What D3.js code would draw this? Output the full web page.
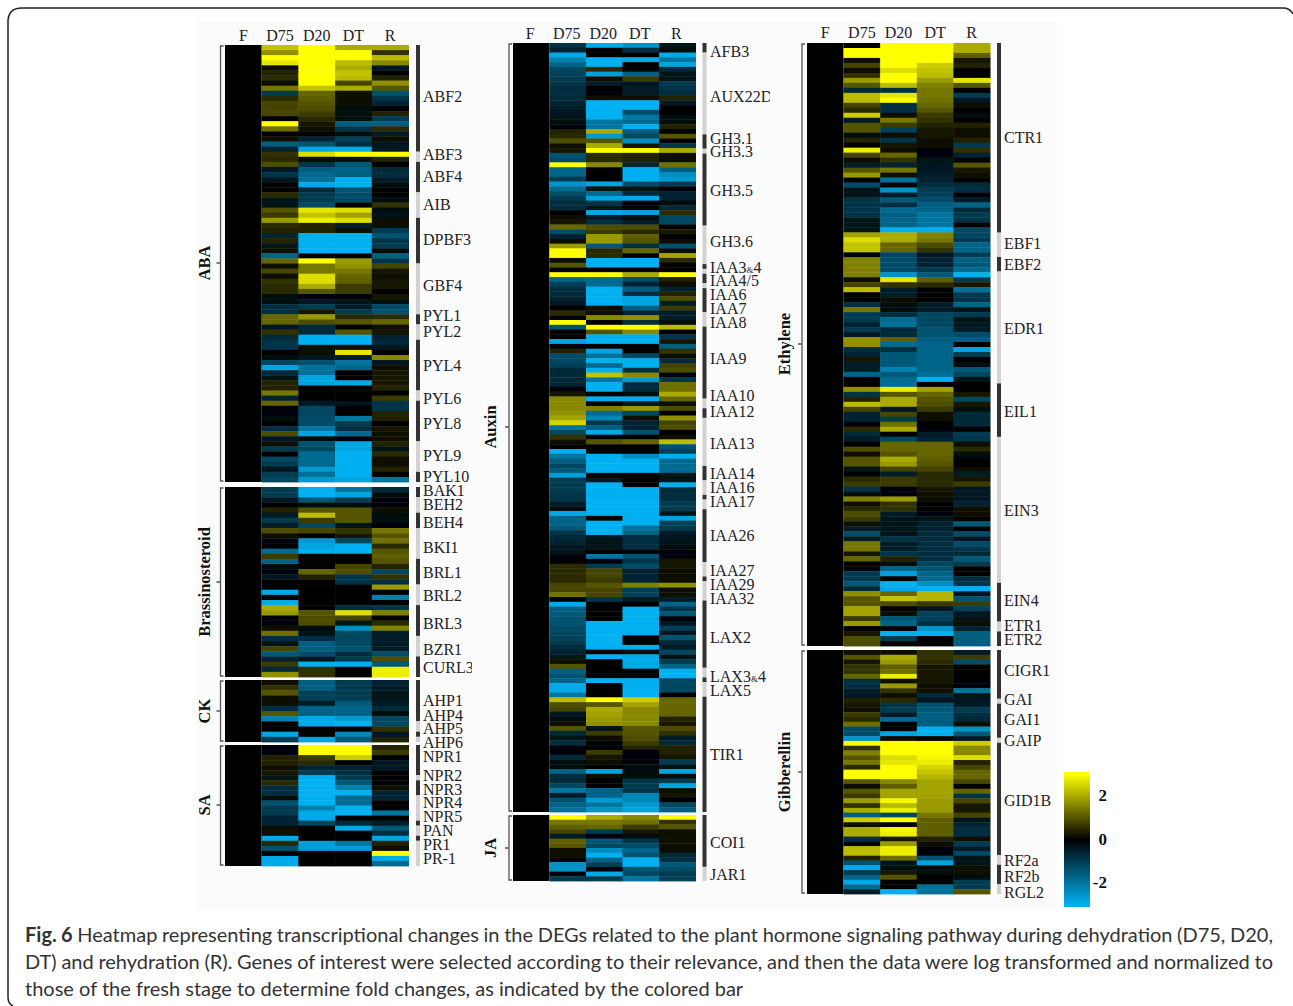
<!DOCTYPE html>
<html>
<head>
<meta charset="utf-8">
<script src="https://cdnjs.cloudflare.com/ajax/libs/d3/7.8.5/d3.min.js"></script>
<style>
  body { margin: 0; background: #fff; }
  svg { display: block; }
  .gene, .head { font-family: "Liberation Serif", serif; font-size: 16px; fill: #222; }
  .group { font-family: "Liberation Serif", serif; font-size: 16.5px; font-weight: bold; fill: #111; }
  .tick { font-family: "Liberation Serif", serif; font-size: 17px; font-weight: bold; fill: #111; }
  .caption { font-family: Lato, sans-serif; font-size: 20px; fill: #333; }
</style>
</head>
<body>
<div id="chart"></div>
<script>
var samples = ["F", "D75", "D20", "DT", "R"];
var freshValue = [0];

// ABA
var abaD75 = [2.3,1.7,3,2.7,.1,.4,.5,.1,1.4,-1,.5,.8,.8,.8,0,3,1.3,0,.2,-1.6,-.6,.6,.5,.9,-.4,-.9,-.4,0,0,.5,-.3,-.3,1,.7,1.8,.5,.4,-.6,.4,-.3,.2,-1.7,1.2,.1,.8,.2,.6,.5,.5,-.2,-.2,-.8,-.8,
  1.2,1.2,-.4,.6,-.7,-.9,-.9,0,-.2,-1.2,-2.8,-.7,-.3,.4,.4,1.4,-.6,1.2,-.1,-.1,-.2,0,-.8,.9,-.4,.1,-1,0,-1.2,-1,-.4,-1,-1.2];
var abaD20 = [3,3,3,3,3,3,3,3,2.3,1.2,1.1,1,.9,.7,.5,.3,.2,0,-.6,-1.4,-2.9,2.6,.1,-.9,-1.6,-1.8,-1.9,-2.9,-.7,-1,-1,-1.3,2.7,2.3,2.8,.4,.4,-3,-3,-3,-3,0,3,1.4,1.4,2.6,2.6,2,1,-.1,-.4,-1,.3,
  1.8,.9,-.7,-.7,-3,-3,.1,.1,-.4,-1.4,-1.9,-1.9,-2.8,-2.8,0,0,0,-.4,-1.2,-1.2,-1.3,-1.3,-2,-2.8,-.2,-1.4,-1.2,-1.8,-1.8,-1.8,-2.6,-1.9,-2.6];
var abaDT = [2,3,3,2.2,2,2.3,2.2,.8,2,.1,.1,.2,-.2,-.2,-.2,-1.6,-.9,-.2,-1.1,-.8,-2.9,3,.2,-1.5,-1.7,-1.6,-3,-3,-1.4,-1.3,-1.3,0,2.6,1.9,2.6,-.5,.1,-3,-3,-3,-3,0,1.8,1.7,1.4,1.2,1.1,.7,.7,0,-.3,-.5,-1,
  .5,1,0,1,-3,-3,.1,2.7,-.5,-2,-1.7,0,0,-2.9,0,0,0,-.3,0,0,-2,-1,-.8,-1.8,-.1,-2.8,-2.8,-3,-3,-3,-3,-3,-2.8];
var abaR = [2,.6,2.2,1.6,-.4,0,.4,1.7,1,-1.4,-.9,-.6,0,.4,-1,-1.6,.5,-.5,.2,-.4,-.4,3,.4,0,-.7,-.8,-.5,-.2,0,0,-.2,.6,-.2,-.3,.2,.1,-1,-1.4,-.9,-1,-.2,-1.6,-.9,.8,.3,.1,.3,.3,0,.3,-.2,-1.3,-1.4,
  .5,1.2,.2,.3,-.6,-.7,-.4,0,1.6,-.4,.1,.3,.3,.3,.4,0,.7,-.9,-.9,.4,.4,0,.3,.1,.1,.4,-.3,.5,.1,.2,.4,0,-2];
var abaBars = [21,2,6,5,9,10,2,3,10,2,8,6,2];
var abaGenes = ["ABF2","ABF3","ABF4","AIB","DPBF3","GBF4","PYL1","PYL2","PYL4","PYL6","PYL8","PYL9","PYL10"];
var abaGeneRows = [10.2,21.7,26,31.5,38.4,47.4,53.3,56.5,63.2,69.7,74.6,80.9,85];

// Brassinosteroid
var brD75 = [-1,-1,-.4,0,.4,-.5,-1,-.5,.9,.2,-.1,0,-1.8,.7,-1.7,-.2,-.1,-.4,0,0,-2.9,0,-2.9,2,1.8,-.1,-.1,.2,1.3,-.8,-.3,.8,-1.5,-.6,.7,-.7,1.7];
var brD20 = [-3,-3,-1.5,-.2,1,2.2,.7,-1.2,.8,0,-2.6,-2.8,-3,0,0,0,1.2,.4,0,0,0,0,0,0,1,.9,.9,-.2,-.3,-.8,-1.6,-1.6,-1.3,-.4,-3,.6,.6];
var brDT = [-2,-2.8,-1,-.2,1,1,1,-.3,.6,.3,-1.2,-3,-3,0,0,.8,.9,-.9,-.9,0,0,0,0,-.8,2.6,.8,-.3,-2.4,-1.2,-1.2,-1.2,-1.4,-.8,-1,-3,0,0];
var brR = [-.7,-.2,-.1,-.1,.2,-.2,-.2,-.1,1.4,1,1.3,.5,1,1.1,1,.4,-1.2,.6,-.8,1.8,0,-2.2,0,-.9,1.5,0,.5,1.5,-.5,-.5,-.5,-.5,-1.3,.9,-1.5,2.8,2.8];
var brBars = [2,3,3,6,5,4,6,4,4];
var brGenes = ["BAK1","BEH2","BEH4","BKI1","BRL1","BRL2","BRL3","BZR1","CURL3"];
var brGeneRows = [.8,3.5,7,11.9,16.7,21.2,26.7,31.7,35.2];

// CK
var ckD75 = [.1,.6,1,.2,.2,-.8,1,-2.2,0,0,-2.8,-1];
var ckD20 = [-1.6,-1.6,-1.1,-1.1,-.5,-1.7,-1.7,-2.9,-2.9,0,0,-2.8];
var ckDT = [-1,-1,-1,-1,-1.5,-1.7,-1.7,-2.6,-3,0,-2.3,-1.5];
var ckR = [-.6,-.5,-.3,-.3,-.5,-.7,-.2,-1.2,-1.2,.6,-.4,.4];
var ckBars = [8,2,1,1];
var ckGenes = ["AHP1","AHP4","AHP5","AHP6"];
var ckGeneRows = [4.06,7,9.5,12.2];

// SA
var saD75 = [-.1,-.1,.4,.4,.2,.3,-.3,.5,-.8,-.8,-.2,-1.4,-1,-1,-.6,-.6,.1,.1,-2.9,.5,-1.4,0,-2.9,-2.9];
var saD20 = [3,3,.7,.5,-.6,-1,-3,-3,-3,-3,-3,-3,-2.2,-2.9,-2.9,-1.2,0,0,0,-2.7,-2.7,0,0,0];
var saDT = [3,3,2.4,0,-.6,-.8,-1,-1.5,-2.2,-3,-1.8,-1.8,-3,-3,0,-.7,-2.8,0,0,-2,-2.7,0,0,0];
var saR = [.4,.7,0,-.4,-.4,0,0,0,.2,-.6,-.6,0,0,-2,0,-.5,-1.5,-.8,-2.8,.4,.1,3,-2.9,-1.8];
var saBars = [6,1,3,5,1,2,1,5];
var saGenes = ["NPR1","NPR2","NPR3","NPR4","NPR5","PAN","PR1","PR-1"];
var saGeneRows = [2.4,6.2,8.9,11.5,14.3,17,19.8,22.6];

// Auxin
var auxD75 = [-.9,-.6,-2.9,-2.2,-1.7,-1.2,-1.1,-1,-.9,-.8,-.8,-.7,-.6,-.5,-.4,-.3,-.2,-.1,.4,.5,.9,.1,.3,-1.4,-1.3,3,-1.7,-1.7,-1,-2.5,-1.8,-1.3,-1,-.8,-.7,0,.2,.3,1.2,-1.3,-.6,.1,1.8,3,3,.2,1,0,3,-1.7,-1.1,-.8,-.7,-.6,-.4,0,
  .5,0,3,-1.4,0,0,-2.8,-.1,.4,-1.3,-1.2,-1.1,-.7,-.7,-.7,-.6,-.1,.3,1.6,1.6,1.6,1.7,1.9,2.5,-2,-1.2,.6,.1,0,-3,-2,-1.6,-1.2,-1.5,-2.7,-1,-1,-1,-.9,-.9,-.5,-.2,-2.9,-1.7,-1.7,-1.5,-.9,-.7,-.6,-.4,-.3,-.1,0,.5,.5,.5,.5,.8,.8,1.3,0,
  -2.9,-1.6,-1.5,-1.4,-1.4,-1.3,-1.2,-1.1,-1,-.8,-.6,-.3,.2,1,-1.6,-1.4,-1.7,-2.9,-2.9,-2,2.2,.9,.8,-.4,-.2,.2,1,-.7,-.3,-.8,-.1,-.1,-.7,-.2,-.2,-1.7,-.8,-.7,-1.2,-2,-.5,-1.4,-1.7,-1.9];
var auxD20 = [-2.9,0,0,-3,-3,.5,-2.7,.2,-.5,0,-.1,.1,-3,-3,-3,-3,-2,-2,2,-2.6,1,2,3,.5,.5,1.6,0,0,0,-2.8,-.3,-1.8,-2.8,-.9,-.3,-2.9,-.5,-.8,.9,.7,1.8,1.8,-1.5,.5,.5,-3,-3,0,3,-1.8,-1.8,-3,-3,-3,-3,.1,.1,
  1.6,0,3,1,-3,-3,0,-2.8,-1.9,-3,-1.8,-3,2.3,-2,-3,-3,0,-3,0,1.5,-1.8,-2.3,-1,-1.6,-2.9,0,1,0,0,-3,-3,-3,-3,0,-.4,-3,-3,-3,-3,-3,-3,-3,0,-3,-3,-3,-.4,-.3,-.3,0,-2,-.1,-1,.8,.8,.7,1,.8,.8,-.9,
  0,0,0,0,-3,-3,-3,-3,-3,-3,0,-3,0,0,0,0,-3,0,0,0,3,1,2,1.9,1.8,1.7,-.3,.7,.2,0,0,.7,.3,.1,0,-2.8,.1,0,0,-1.7,-1.7,-2.6,-2,-2.5];
var auxDT = [-2.5,-.8,0,-2.9,0,0,-1.6,.7,-.4,-.5,-.5,.2,-3,-3,-1.3,-2,-1.8,-3,-1.6,-1.2,-2.4,.3,3,.4,.4,-.6,-3,-3,-3,-1.3,-.3,-.7,-2.9,-.1,0,-2.8,-.2,-.5,.9,.5,1.1,1,-.8,1.2,0,-3,-3,0,2,-1.3,-.6,-1.6,-.8,-2.8,-2.8,-1.6,-.6,
  1.7,-.8,3,1.6,-3,-3,0,0,-1.2,-3,-3,-.8,1.6,-2.6,-.8,-.8,-.2,-2.9,-.4,1.8,-1.2,.2,-.6,-.6,-1.4,0,1.2,0,0,-2.4,-3,-3,-3,0,0,0,-3,-3,-3,-3,-3,-3,-3,-3,-2,-1.7,-.8,-.8,-.8,-.1,-1.4,-.9,-1.3,-.6,-.6,-.6,1.5,-1.1,-1.1,-.5,
  0,-3,-3,-3,-3,-3,-3,0,0,-3,-.2,-2.9,-2.9,-2.9,0,0,-3,-3,-3,-3,2.4,1.9,1.6,1.6,1.6,1.6,1,1,.9,.7,.4,-.1,-.1,-.1,-.2,-.2,-.2,-.9,-1,-.9,-2.3,-2.3,-2.6,-2.8];
var auxR = [-.3,-.2,-2.9,-2,-2.8,-.7,-.3,-.3,-1,-.9,-.8,.4,-.4,0,0,-.2,-.2,.4,0,1,0,-.9,2,.2,.2,1.3,-1.6,-2.4,-2.6,-1,-.1,-.6,-.6,-.2,-.7,.5,-1.2,-1.2,0,.3,0,.2,-1.4,.1,1.9,.5,0,0,3,.4,.1,-.6,.4,.9,-.5,.7,-.5,
  -.5,-.2,2.2,0,-.9,.3,-1.6,.6,.2,-.7,.8,.9,-.1,-.9,1.3,1.3,2,1.2,.1,.9,0,1.7,.8,.9,0,.2,2.2,-1.4,-1.1,-3,-1.8,-1.8,-1.8,-.3,-.3,-3,-.7,-.8,-.8,-1,-1,-.3,-2.8,-1.1,-1,-.5,-.4,-.3,-.2,-.1,-.1,.3,.3,.1,.1,.1,1.7,.1,.1,-.5,
  -1.7,-.9,-1.5,-.1,-.4,-1.1,-.4,-1.4,-.7,-.5,-1.2,-.3,-1,-1.7,-3,-3,-1.2,-1.2,-1.2,0,1.2,1.2,1.2,1.2,.4,.3,.9,.6,-.5,-.7,.4,.4,.3,-1,-.3,-2.8,-.2,-1,-2.8,.2,.3,-.1,-1.2,-1.6];
var auxBars = [2,17,3,1,15,8,1,1,2,1,5,3,15,2,2,10,3,3,1,2,11,3,1,4,14,2,1,3,24];
var auxGenes = ["AFB3","AUX22D","GH3.1","GH3.3","GH3.5","GH3.6","IAA3&4","IAA4/5","IAA6","IAA7","IAA8","IAA9","IAA10","IAA12","IAA13","IAA14","IAA16","IAA17","IAA26","IAA27","IAA29","IAA32","LAX2","LAX3&4","LAX5","TIR1"];
var auxGeneRows = [1.9,11.2,20,22.7,30.8,41.4,46.8,49.5,52.4,55.4,58.3,65.8,73.4,76.8,83.4,89.7,92.6,95.5,102.6,109.9,112.8,115.7,123.8,131.9,134.8,148.1];

// JA
var jaD75 = [3,1.4,1.1,.8,-.5,1.1,1,.1,.1,-.1,-2.5,-2.5,-.1,-1];
var jaD20 = [2,1.4,1.2,-1,-.1,-1.5,-1.2,-2.4,-3,-1.7,-1.1,-.1,-2.9,-1];
var jaDT = [1.6,1.3,.7,.3,-.2,-.9,-1.3,-1.7,-1.4,-3,-3,-1.4,-1.2,-2];
var jaR = [3,.6,1,.2,.2,.2,.1,.2,-.7,-.8,-1.5,-1.3,-1,-1.1];
var jaBars = [11,3];
var jaGenes = ["COI1","JAR1"];
var jaGeneRows = [5.9,12.7];

// Ethylene
var ethD75 = [0,3,3,.2,.8,.1,.6,1.8,1,-.7,2.2,2.2,.8,.5,2.4,-.5,1,1,-.2,.4,0,2.8,.8,.2,-.5,1,1.8,0,-1.3,-.3,-.3,-.9,-.9,-.9,-.9,-.3,-.3,-.3,1.9,2.6,2.3,2.3,-.1,1.5,1.5,1.5,1.5,.1,.8,2.2,0,0,-.8,1.4,-1,-1,-.6,
  -1,-.4,1.7,1.7,-.8,-.6,.3,-.5,-.5,-1.7,0,0,1.7,-.9,.4,2.2,.8,-.6,-.6,-.1,.5,-.7,-.5,0,.9,.2,1,1,-.3,0,.5,.7,-.9,-.2,1.5,.2,.5,.9,.7,.1,-.5,-1.3,-.5,1.4,1.4,.3,1.2,0,-.1,-1,-1,-1.5,-.7,1.7,1,1,1.9,1.9,.7,
  1.8,0,.3,.9,.9];
var ethD20 = [3,3,3,3,3,2.6,3,3,2.2,-.8,2.7,3,-.8,-.8,.2,1.4,.7,-1.1,.1,-.9,.3,.2,1.2,.6,-.6,1.4,.2,-1.9,0,-2.5,-.5,-1.5,-.8,-1.8,-1.6,-1.7,-1.7,-3,2,2,1.2,1.2,-1.2,-1.3,-1.3,-1.3,-2.5,2.7,.6,-.5,-.5,.2,-.2,-.2,-.8,-1.8,-1.9,
  -.7,-.7,1.1,-1.8,-.8,-1.5,-1.5,-1.5,-2.2,-1.5,-1.8,-1.9,2.8,1,2,2,-.4,.8,-1,1.3,2,0,-1.2,1.2,1.2,1,2,1.8,.8,-.5,.7,.7,-.1,-.1,1.8,.6,.6,-.5,-.3,-.3,-.3,-.3,-.9,-.5,-.5,-.9,.4,-.2,-1.7,-2.7,0,-3,-2.9,1.2,2.3,.9,0,.1,-1.5,
  -1.7,-.1,-3,-1,0];
var ethDT = [3,3,3,3,2.4,2.3,2.2,1.8,1.5,1.4,1.4,1.3,1.2,1,.7,.6,.4,.3,.3,.1,.1,-.1,-.1,-.3,-.4,-.4,-.5,-.6,-.8,-1,-1.1,-1.3,-1.6,-1.7,-2,-2,-2,-3,1.5,1.4,.9,.6,-.4,-.6,-.6,-1,-1.5,1.1,.5,0,0,0,-.5,-.5,-1.2,-1.2,-1.2,
  -1.4,-1.4,-1.6,-1.7,-1.7,-1.7,-1.7,-1.7,-1.7,-1.9,-3,0,1.9,1.2,1,.9,.7,.2,.1,0,-.1,-.5,-.6,1.2,1.2,1.2,1.1,1,.8,.5,.5,.5,.3,.2,.1,0,0,-.1,-.3,-.6,-.6,-.7,-.8,-.8,-.8,-.8,-.8,-1.2,-1.4,-1.7,-1.8,-2.4,-3,2.1,2.1,.7,-.4,-1.1,-1.1,
  -.8,-2.5,-3,0,0];
var ethR = [2,2,1.1,.3,.4,0,0,2.7,1,0,-1,-.4,.2,0,-.2,0,.4,.2,.2,.4,-1,.6,-.6,0,1,.3,.2,0,-.7,-.8,-.1,-.5,-1.7,-.7,-1,-.9,0,-1.2,-1.2,-1,-1.7,-1.7,-1,-1.6,-1.5,-1.8,-3,-1,.3,-1.9,-1,-.9,-1.7,-.3,-1,-.3,-.4,
  -.5,-1.3,-1.6,0,-2.8,-1,0,-.2,-1.5,-1.2,-.3,0,0,.3,-1.2,.3,-.2,-.7,-.7,-.7,0,-1,-.9,.1,.5,-.2,-.1,0,.2,-.5,.3,.7,-.4,-.4,-.4,-.6,.2,.2,0,-1.5,0,-1.3,-.4,-1.3,-.9,-.7,-1.5,-1,0,0,-.8,-.9,-3,-.4,-1.4,.7,-1.1,-.4,-.3,
  .1,-.6,-1.6,-1.6,-1.6];
var ethBars = [39,5,3,23,11,30,8,2,3];
var ethGenes = ["CTR1","EBF1","EBF2","EDR1","EIL1","EIN3","EIN4","ETR1","ETR2"];
var ethGeneRows = [19.5,41.3,45.7,58.8,75.9,96.2,114.7,119.9,122.8];

// Gibberellin
var gibD75 = [.1,1,.3,.6,.6,1.2,-.8,-.8,-.5,-.4,.4,.3,.1,.7,.5,1.3,-1.3,-1.3,-2.5,3,.6,1.5,1,1.4,.5,3,3,1,.1,1,.7,1.8,.6,2,-1.6,2.4,.2,2,2,-.8,-.1,2.2,2.2,.4,-1.4,-2.9,-1,-1.7,-2.9,-1.8,-.5];
var gibD20 = [.2,2,1.8,1.1,1.3,2.8,.2,1.8,.6,.2,.5,-.9,-1,-.5,-1.8,0,0,-2.8,.1,3,3,3,2.6,2.7,3,3,3,1.6,1.1,1.9,1.9,2.9,2.2,2.8,-1.2,3,-.1,2.9,2.8,.3,1.8,2.8,2.8,1.3,-.3,-.2,.3,1,0,0,-3];
var gibDT = [.6,.6,.5,.3,.3,.3,.3,.1,.1,-.7,-.4,-1.4,-1.5,-1.6,-1.6,-1.6,-3,-3,0,3,3,3,2.9,2.8,2.5,2.3,2.1,1.9,1.9,1.9,1.9,1.8,1.8,1.8,1.4,1.1,1.1,1.1,1.1,.4,.1,-.1,-.1,-1.4,-2.8,-.2,-.2,0,0,-1.9,-1.9];
var gibR = [-.5,.7,-1.3,0,0,0,-.1,-.1,-2,-.3,-.4,-.5,-1,-.8,-.7,.2,-2.5,-1.5,-.4,2.4,1.6,1.6,2.6,.4,.8,1.2,1.2,.8,0,1.2,-.9,.8,.3,.3,.8,-.3,-.6,-.8,-.8,.2,-1,-.5,-1.3,-.3,-.3,.1,.1,-.2,-1,-1,1];
var gibBars = [10,1,7,1,23,2,4,2];
var gibGenes = ["CIGR1","GAI","GAI1","GAIP","GID1B","RF2a","RF2b","RGL2"];
var gibGeneRows = [4.3,10.2,14.3,18.6,30.9,43.2,46.5,49.8];

// colour bar ticks
var legendTicks = [2, 0, -2];
var legendDomain = [-3.1, 3.1];

var captionLines = [
  "Heatmap representing transcriptional changes in the DEGs related to the plant hormone signaling pathway during dehydration (D75, D20,",
  "DT) and rehydration (R). Genes of interest were selected according to their relevance, and then the data were log transformed and normalized to",
  "those of the fresh stage to determine fold changes, as indicated by the colored bar"
];

var width = 1293,
    height = 1006;

var color = d3.scaleLinear()
    .domain([-3, 0, 3])
    .range(["#00b0f0", "#000000", "#ffff00"])
    .clamp(true);

var svg = d3.select("#chart").append("svg")
    .attr("width", width)
    .attr("height", height);

var defs = svg.append("defs");
defs.append("filter").attr("id", "soft")
  .append("feGaussianBlur").attr("stdDeviation", 0.5);

// card outline, open at the bottom, and pale figure background
svg.append("path")
    .attr("d", "M13,1006Q8,1004 8,997V22Q8,8 22,8H1283Q1290,8 1293,14")
    .attr("fill", "none")
    .attr("stroke", "#222")
    .attr("stroke-width", 1.5);
svg.append("rect")
    .attr("x", 197).attr("y", 22)
    .attr("width", 860).attr("height", 888)
    .attr("fill", "#fbfbfb");

var panels = [
  { x0: 225, x1: 408.5, headY: 41, headDx: 0, bracketX: 220.5, labelX: 210, barX: 416, geneX: 423, clipX: 472, groups: [
    { name: "ABA", top: 45, bottom: 482, nameY: 263, cols: [abaD75, abaD20, abaDT, abaR], bars: abaBars, genes: abaGenes, geneRows: abaGeneRows },
    { name: "Brassinosteroid", top: 487, bottom: 677, nameY: 582, cols: [brD75, brD20, brDT, brR], bars: brBars, genes: brGenes, geneRows: brGeneRows },
    { name: "CK", top: 680, bottom: 742, nameY: 711, cols: [ckD75, ckD20, ckDT, ckR], bars: ckBars, genes: ckGenes, geneRows: ckGeneRows },
    { name: "SA", top: 745, bottom: 866, nameY: 805, cols: [saD75, saD20, saDT, saR], bars: saBars, genes: saGenes, geneRows: saGeneRows }
  ]},
  { x0: 513, x1: 695.5, headY: 39, headDx: -1, bracketX: 509, labelX: 496, barX: 702.5, geneX: 710, clipX: 770, groups: [
    { name: "Auxin", top: 43, bottom: 812, nameY: 427, cols: [auxD75, auxD20, auxDT, auxR], bars: auxBars, genes: auxGenes, geneRows: auxGeneRows },
    { name: "JA", top: 815, bottom: 881, nameY: 848, cols: [jaD75, jaD20, jaDT, jaR], bars: jaBars, genes: jaGenes, geneRows: jaGeneRows }
  ]},
  { x0: 807, x1: 990, headY: 38, headDx: 0, bracketX: 802, labelX: 790, barX: 997, geneX: 1004, clipX: 1060, groups: [
    { name: "Ethylene", top: 43, bottom: 646, nameY: 344, cols: [ethD75, ethD20, ethDT, ethR], bars: ethBars, genes: ethGenes, geneRows: ethGeneRows },
    { name: "Gibberellin", top: 650, bottom: 894, nameY: 772, cols: [gibD75, gibD20, gibDT, gibR], bars: gibBars, genes: gibGenes, geneRows: gibGeneRows }
  ]}
];

panels.forEach(function(panel, p) {
  var xScale = d3.scaleBand().domain(samples).range([panel.x0, panel.x1]);
  var g = svg.append("g");

  g.selectAll(".head")
      .data(samples)
    .enter().append("text")
      .attr("class", "head")
      .attr("x", d => xScale(d) + xScale.bandwidth() / 2 + panel.headDx)
      .attr("y", panel.headY)
      .attr("text-anchor", "middle")
      .text(d => d);

  defs.append("clipPath").attr("id", "clip" + p)
    .append("rect")
      .attr("x", panel.geneX - 2).attr("y", 0)
      .attr("width", panel.clipX - panel.geneX + 2).attr("height", height);

  panel.groups.forEach(function(group) {
    var mid = [group.top, group.bottom];
    var cells = g.append("g").attr("filter", "url(#soft)");

    // fresh column is the zero reference
    var fresh = d3.scaleBand().domain(d3.range(freshValue.length)).range(mid);
    cells.selectAll(null)
        .data(freshValue)
      .enter().append("rect")
        .attr("x", xScale("F"))
        .attr("y", (d, i) => fresh(i))
        .attr("width", xScale.bandwidth())
        .attr("height", fresh.bandwidth())
        .attr("fill", d => color(d));

    group.cols.forEach(function(values, c) {
      var yScale = d3.scaleBand().domain(d3.range(values.length)).range(mid);
      cells.selectAll(null)
          .data(values)
        .enter().append("rect")
          .attr("x", xScale(samples[c + 1]))
          .attr("y", (d, i) => yScale(i))
          .attr("width", xScale.bandwidth() + 0.5)
          .attr("height", yScale.bandwidth() + 0.4)
          .attr("fill", d => color(d));
    });

    // row scale shared by gene bars and gene labels
    var nRows = d3.sum(group.bars);
    var rowScale = d3.scaleLinear().domain([0, nRows]).range(mid);
    var ends = d3.cumsum(group.bars);

    g.selectAll(null)
        .data(group.bars)
      .enter().append("rect")
        .attr("x", panel.barX)
        .attr("y", (d, i) => rowScale(ends[i] - d))
        .attr("width", 4)
        .attr("height", d => rowScale(d) - rowScale(0))
        .attr("fill", (d, i) => i % 2 ? "#d2d2d2" : "#333");

    var labels = g.append("g").attr("clip-path", "url(#clip" + p + ")");
    labels.selectAll(null)
        .data(group.genes)
      .enter().append("text")
        .attr("class", "gene")
        .attr("x", panel.geneX)
        .attr("y", (d, i) => rowScale(group.geneRows[i]) + 5)
        .each(function(d) {
          var parts = d.split("&");
          d3.select(this).append("tspan").text(parts[0]);
          if (parts[1]) {
            d3.select(this).append("tspan").style("font-size", "9px").text("&");
            d3.select(this).append("tspan").text(parts[1]);
          }
        });

    // group bracket
    var bx = panel.bracketX, cy = group.nameY;
    g.append("path")
        .attr("d", "M" + (bx + 3) + "," + (group.top + 1) + "H" + bx + "V" + (group.bottom - 1) + "H" + (bx + 3)
          + "M" + bx + "," + cy + "H" + (bx - 4))
        .attr("fill", "none")
        .attr("stroke", "#555")
        .attr("stroke-width", 1.3);

    g.append("text")
        .attr("class", "group")
        .attr("text-anchor", "middle")
        .attr("transform", "translate(" + panel.labelX + "," + cy + ") rotate(-90)")
        .text(group.name);
  });
});

// colour bar
var legendY = d3.scaleLinear().domain(legendDomain).range([907, 772]);
var grad = defs.append("linearGradient")
    .attr("id", "legendGrad")
    .attr("x1", 0).attr("x2", 0).attr("y1", 1).attr("y2", 0);
grad.selectAll("stop")
    .data([-3, -1.5, 0, 1.5, 3])
    .enter().append("stop")
    .attr("offset", d => (d - legendDomain[0]) / (legendDomain[1] - legendDomain[0]))
    .attr("stop-color", d => color(d));
svg.append("rect")
    .attr("x", 1064).attr("y", legendY(legendDomain[1]))
    .attr("width", 26).attr("height", legendY(legendDomain[0]) - legendY(legendDomain[1]))
    .attr("fill", "url(#legendGrad)");
svg.selectAll(".tick")
    .data(legendTicks)
  .enter().append("text")
    .attr("class", "tick")
    .attr("x", 1107)
    .attr("y", d => legendY(d) + 5)
    .attr("text-anchor", "end")
    .text(d => d);

// caption, first two lines justified
captionLines.forEach(function(line, i) {
  var t = svg.append("text")
      .attr("class", "caption")
      .attr("x", 25)
      .attr("y", 942 + i * 27);
  if (i == 0) {
    t.append("tspan").style("font-weight", "bold").text("Fig. 6");
    t.append("tspan").text(" " + line);
  } else {
    t.text(line);
  }
  if (i < 2) {
    var gaps = t.text().split(" ").length - 1;
    t.style("word-spacing", ((1248 - t.node().getComputedTextLength()) / gaps) + "px");
  }
});
</script>
</body>
</html>
